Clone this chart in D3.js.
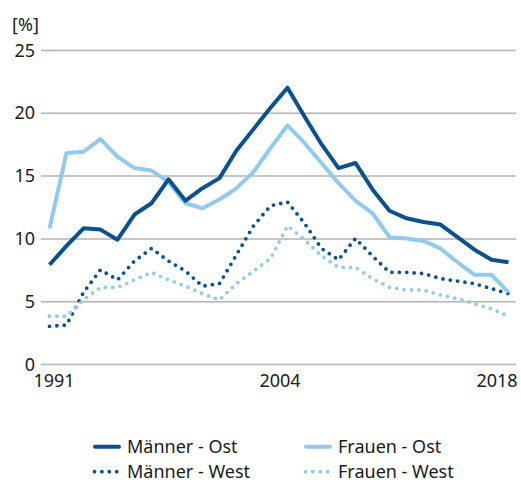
<!DOCTYPE html>
<html><head><meta charset="utf-8">
<script src="https://cdn.jsdelivr.net/npm/d3@7"></script>
<style>
html,body{margin:0;padding:0;background:#fff;}
text{font-family:"Noto Sans","Open Sans",sans-serif;fill:#1a1a1a;}
</style></head>
<body><svg id="c" width="521" height="483"></svg>
<script>
const years = d3.range(1991, 2019);
const maennerOst  = [7.9, 9.4, 10.8, 10.7, 9.9, 11.9, 12.8, 14.7, 13.0, 14.0, 14.8, 17.0, 18.7, 20.4, 22.0, 19.7, 17.5, 15.6, 16.0, 13.9, 12.2, 11.6, 11.3, 11.1, 10.1, 9.1, 8.3, 8.1];
const frauenOst   = [10.8, 16.8, 16.9, 17.9, 16.5, 15.6, 15.4, 14.5, 12.8, 12.4, 13.1, 14.0, 15.3, 17.2, 19.0, 17.6, 16.0, 14.4, 13.0, 12.0, 10.1, 10.0, 9.8, 9.2, 8.1, 7.1, 7.1, 5.7];
const maennerWest = [3.0, 3.1, 5.7, 7.5, 6.7, 8.2, 9.2, 8.2, 7.4, 6.2, 6.4, 8.7, 11.0, 12.6, 12.9, 11.2, 9.2, 8.3, 10.0, 8.6, 7.3, 7.3, 7.2, 6.8, 6.6, 6.4, 6.0, 5.6];
const frauenWest  = [3.8, 3.8, 5.1, 6.1, 6.1, 6.7, 7.3, 6.7, 6.2, 5.6, 5.1, 6.4, 7.4, 8.4, 11.0, 9.9, 8.6, 7.7, 7.7, 6.8, 6.1, 5.9, 5.9, 5.5, 5.2, 4.8, 4.4, 3.8];
const seriesNames = ["Männer - Ost", "Frauen - Ost", "Männer - West", "Frauen - West"];
const yTicks = [0, 5, 10, 15, 20, 25];
const xTickLabels = [1991, 2004, 2018];
const unitLabel = "[%]";

const dark = "#0b5190", light = "#92caee";
const series = [
  {name: seriesNames[0], values: maennerOst, color: dark, dotted: false},
  {name: seriesNames[1], values: frauenOst, color: light, dotted: false},
  {name: seriesNames[2], values: maennerWest, color: dark, dotted: true},
  {name: seriesNames[3], values: frauenWest, color: light, dotted: true}
];

const svg = d3.select("#c");
const gridL = 41, gridR = 516;
const fs = 18;
const x = d3.scalePoint().domain(years).range([49.5, 508.5]);
const y = d3.scaleLinear().domain([0, 25]).range([364, 50]);

// y axis + gridlines
const ya = svg.append("g").attr("transform", `translate(${gridL},0)`)
  .call(d3.axisLeft(y).tickValues(yTicks).tickSizeInner(-(gridR - gridL)).tickSizeOuter(0).tickPadding(6));
ya.select(".domain").remove();
ya.selectAll(".tick line").attr("stroke", "#b3b3b3").attr("stroke-width", 1.5);
ya.selectAll(".tick text").attr("font-size", fs).attr("fill", "#1a1a1a").attr("dy", "0.34em");

svg.append("text").attr("x", 12).attr("y", 31).attr("font-size", fs).text(unitLabel);

// x axis labels
const xa = svg.append("g").attr("transform", "translate(0,364)")
  .call(d3.axisBottom(x).tickValues(xTickLabels).tickSize(0).tickPadding(10));
xa.select(".domain").remove();
const shift = {1991: 4, 2004: 9, 2018: -12};
xa.selectAll(".tick text").attr("font-size", fs).attr("fill", "#1a1a1a")
  .attr("dx", d => shift[d] || 0);

// lines
const line = d3.line().x((d, i) => x(years[i])).y(d => y(d));
const order = [2, 3, 1, 0];
order.forEach(k => {
  const s = series[k];
  const p = svg.append("path").datum(s.values).attr("d", line)
    .attr("fill", "none").attr("stroke", s.color)
    .attr("stroke-linejoin", "round");
  if (s.dotted) {
    p.attr("stroke-width", 3.8).attr("stroke-linecap", "round").attr("stroke-dasharray", "0 7.4");
  } else {
    p.attr("stroke-width", 4).attr("stroke-linecap", "butt");
  }
});

// legend
const lg = svg.append("g");
const cols = [93, 304], rows = [446.7, 471.7];
series.forEach((s, i) => {
  const cx = cols[i % 2], cy = rows[Math.floor(i / 2)];
  const g = lg.append("g").attr("transform", `translate(${cx},${cy})`);
  const l = g.append("line").attr("y1", 0).attr("y2", 0).attr("stroke", s.color);
  if (s.dotted) l.attr("stroke-width", 3.8).attr("stroke-linecap", "round").attr("stroke-dasharray", "0 7.4").attr("x1", 1.5).attr("x2", 27);
  else l.attr("stroke-width", 4).attr("stroke-linecap", "round").attr("x1", 2).attr("x2", 26);
  g.append("text").attr("x", 34).attr("y", 0).attr("dy", "0.35em").attr("font-size", fs).text(s.name);
});
</script></body></html>
